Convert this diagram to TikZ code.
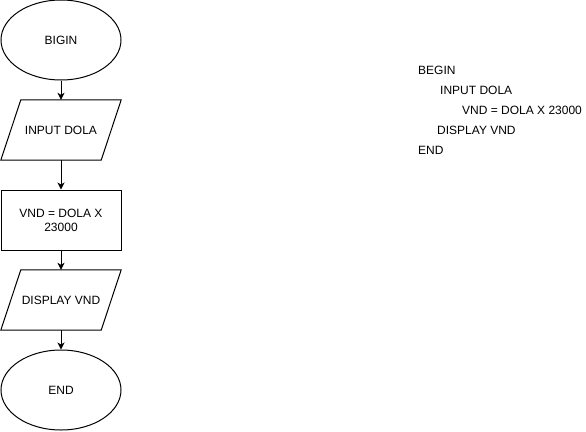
\documentclass[tikz,border=0pt]{standalone}
\usepackage{fontspec}
\setmainfont{Liberation Sans}
\usetikzlibrary{shapes.geometric,arrows.meta}
\begin{document}
\begin{tikzpicture}[x=1pt,y=-1pt,
  every node/.style={font=\fontsize{12}{14}\selectfont, text=black},
  term/.style={ellipse, draw, line width=1pt, minimum width=120pt, minimum height=80pt, inner sep=0pt},
  procbox/.style={rectangle, draw, line width=1pt, minimum width=120pt, minimum height=60pt, inner sep=0pt, align=center},
  iobox/.style={rectangle, minimum width=120pt, minimum height=60pt, inner sep=0pt, align=center},
  para/.style={draw, line width=1pt, line join=miter},
  arr/.style={line width=1pt, -{Stealth[length=7pt,width=7pt,inset=2pt]}},
  code/.style={anchor=west, inner sep=0pt}]
\useasboundingbox[fill=white] (0,0) rectangle (586,431);
\node[term] (b) at (61,40) {BIGIN};
\node[iobox] (in) at (61,130) {INPUT DOLA};
\node[procbox] (calc) at (61,220) {VND = DOLA X\\23000};
\node[iobox] (out) at (61,300) {DISPLAY VND};
\node[term] (e) at (61,390) {END};
\draw[para] ([xshift=20pt]in.north west) -- (in.north east) -- ([xshift=-20pt]in.south east) -- (in.south west) -- cycle;
\draw[para] ([xshift=20pt]out.north west) -- (out.north east) -- ([xshift=-20pt]out.south east) -- (out.south west) -- cycle;
\draw[arr] (b.south) -- (in.north);
\draw[arr] (in.south) -- (calc.north);
\draw[arr] (calc.south) -- (out.north);
\draw[arr] (out.south) -- (e.north);
\node[code] (t1) at (418,70) {BEGIN};
\node[code] (t2) at (440,90) {INPUT DOLA};
\node[code] (t3) at (462,110) {VND = DOLA X 23000};
\node[code] (t4) at (437,130) {DISPLAY VND};
\node[code] (t5) at (418,150) {END};
\end{tikzpicture}
\end{document}
